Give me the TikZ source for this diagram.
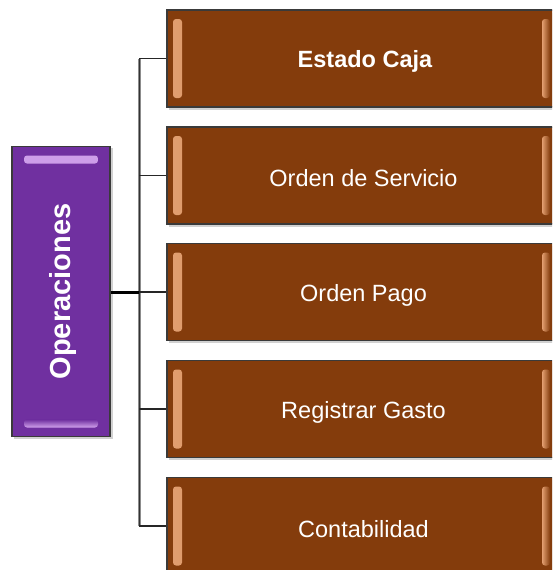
\documentclass[tikz,border=0pt]{standalone}
\usepackage{fontspec}
\setmainfont{Liberation Sans}
\usetikzlibrary{calc}
\definecolor{brownbox}{HTML}{843C0C}
\definecolor{brownhl}{HTML}{F4B183}
\definecolor{purplebox}{HTML}{7030A0}
\definecolor{purplehl}{HTML}{DDB0F5}
\definecolor{edge}{HTML}{3A3A3A}
\tikzset{
  itembox/.style={draw=edge, line width=1.2pt, fill=brownbox, minimum width=389pt, minimum height=97pt,
    inner sep=0pt,
    path picture={
      \fill[rounded corners=3pt, left color=brownhl, right color=brownbox, opacity=0.85]
        ([xshift=6pt,yshift=-9pt]path picture bounding box.north west) rectangle
        ([xshift=15pt,yshift=9pt]path picture bounding box.south west);
      \fill[rounded corners=3pt, left color=brownhl, right color=brownbox, opacity=0.85]
        ([xshift=-14pt,yshift=-9pt]path picture bounding box.north east) rectangle
        ([xshift=-6pt,yshift=9pt]path picture bounding box.south east);
    }},
  mainbox/.style={draw=edge, line width=1.2pt, fill=purplebox, minimum width=98pt, minimum height=290pt,
    inner sep=0pt,
    path picture={
      \fill[rounded corners=3pt, top color=purplehl, bottom color=purplebox, opacity=0.9]
        ([xshift=12pt,yshift=-9pt]path picture bounding box.north west) rectangle
        ([xshift=-12pt,yshift=-17pt]path picture bounding box.north east);
      \fill[rounded corners=3pt, bottom color=purplehl, top color=purplebox, opacity=0.9]
        ([xshift=12pt,yshift=9pt]path picture bounding box.south west) rectangle
        ([xshift=-12pt,yshift=17pt]path picture bounding box.south east);
    }},
  itemtext/.style={text=white, font=\fontsize{23.5}{28}\selectfont},
  link/.style={draw=black!85, line width=1.2pt},
}
\begin{document}
\begin{tikzpicture}[x=1pt,y=-1pt]
\clip (0,0) rectangle (552,570);
\fill[white] (0,0) rectangle (552,570);
% shadows
\foreach \y in {58.5,175.5,292,409,526}{
  \fill[black!18] (169,\y-46) rectangle (560,\y+51);
}
\fill[black!18] (14,148) rectangle (113,439);
% boxes
\node[mainbox] (op) at (61,291.5) {};
\node[rotate=90, text=white, font=\bfseries\fontsize{29}{34}\selectfont] (oplabel) at ([xshift=2pt]op.center) {Operaciones};
\node[itembox] (b1) at (361.5,58.5) {};
\node[itembox] (b2) at (361.5,175.5) {};
\node[itembox] (b3) at (361.5,292) {};
\node[itembox] (b4) at (361.5,409) {};
\node[itembox] (b5) at (361.5,526) {};
\node[itemtext, font=\bfseries\fontsize{23.5}{28}\selectfont] (t1) at (365,61) {Estado Caja};
\node[itemtext] (t2) at (363.5,178.5) {Orden de Servicio};
\node[itemtext] (t3) at (363.5,295.5) {Orden Pago};
\node[itemtext] (t4) at (363.5,412) {Registrar Gasto};
\node[itemtext] (t5) at (363.5,529) {Contabilidad};
% connectors
\coordinate (bus) at (139,292);
\draw[black!45, line width=3pt] (b1.west -| bus) -- (b5.west -| bus);
\draw[black!80, line width=0.8pt] (b1.west -| bus) -- (b5.west -| bus);
\draw[black, line width=3pt] (op.east |- bus) -- (bus);
\foreach \b in {b1,b2,b3,b4,b5}{
  \draw[link] (\b.west -| bus) -- (\b.west);
}
\end{tikzpicture}
\end{document}
